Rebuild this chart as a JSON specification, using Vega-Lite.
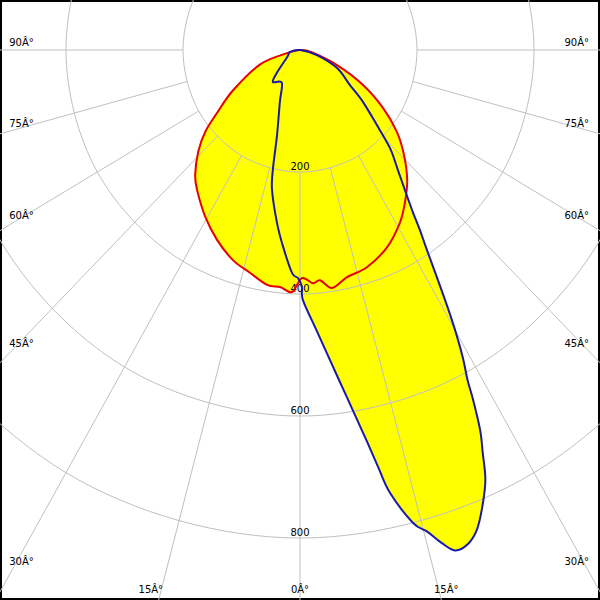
{
  "$schema": "https://vega.github.io/schema/vega-lite/v6.json",
  "width": 600,
  "height": 600,
  "padding": 0,
  "autosize": {"type": "none"},
  "background": "white",
  "config": {"view": {"stroke": "black", "strokeWidth": 4}, "font": "DejaVu Sans"},
  "datasets": {
    "red": [
      {"g": -90, "cd": 0}, {"g": -77, "cd": 23}, {"g": -71, "cd": 72}, {"g": -60, "cd": 132},
      {"g": -54, "cd": 175}, {"g": -50.4, "cd": 210}, {"g": -46.2, "cd": 241}, {"g": -41.2, "cd": 272},
      {"g": -37.5, "cd": 289}, {"g": -30.6, "cd": 318}, {"g": -24.5, "cd": 342}, {"g": -18.4, "cd": 363},
      {"g": -13.2, "cd": 375}, {"g": -8.3, "cd": 389}, {"g": -5, "cd": 390}, {"g": -2, "cd": 397},
      {"g": 0.5, "cd": 374}, {"g": 3.3, "cd": 383}, {"g": 5.2, "cd": 379}, {"g": 8, "cd": 394},
      {"g": 12.2, "cd": 381}, {"g": 17.8, "cd": 374}, {"g": 24.7, "cd": 356}, {"g": 31, "cd": 331},
      {"g": 35.6, "cd": 308}, {"g": 40.7, "cd": 281}, {"g": 46, "cd": 247}, {"g": 51, "cd": 213},
      {"g": 56.2, "cd": 171}, {"g": 62, "cd": 122}, {"g": 68.7, "cd": 68}, {"g": 80, "cd": 20}
    ],
    "blue": [
      {"g": -90, "cd": 0}, {"g": -79, "cd": 17}, {"g": -62, "cd": 25}, {"g": -47, "cd": 53},
      {"g": -41.5, "cd": 70}, {"g": -30, "cd": 62}, {"g": -22, "cd": 92}, {"g": -15.7, "cd": 145},
      {"g": -13.4, "cd": 199}, {"g": -11.8, "cd": 234}, {"g": -7.9, "cd": 286}, {"g": -5.1, "cd": 324},
      {"g": -2.1, "cd": 366}, {"g": -0.5, "cd": 374}, {"g": 0.5, "cd": 389}, {"g": 0.7, "cd": 410},
      {"g": 3.5, "cd": 460}, {"g": 5.06, "cd": 494}, {"g": 7.03, "cd": 545}, {"g": 8.82, "cd": 602},
      {"g": 10.16, "cd": 654}, {"g": 11.07, "cd": 697}, {"g": 11.96, "cd": 742}, {"g": 14, "cd": 799},
      {"g": 15.4, "cd": 819}, {"g": 16.7, "cd": 844}, {"g": 17.9, "cd": 862}, {"g": 19.4, "cd": 860},
      {"g": 21, "cd": 843}, {"g": 22.6, "cd": 811}, {"g": 24.2, "cd": 773}, {"g": 25.3, "cd": 731},
      {"g": 26.3, "cd": 695}, {"g": 27.3, "cd": 645}, {"g": 27.9, "cd": 612}, {"g": 29, "cd": 572},
      {"g": 30.4, "cd": 513}, {"g": 31.8, "cd": 453}, {"g": 33.5, "cd": 393}, {"g": 34.8, "cd": 359},
      {"g": 35.9, "cd": 330}, {"g": 37.7, "cd": 296}, {"g": 40.4, "cd": 258}, {"g": 43.7, "cd": 223},
      {"g": 46.9, "cd": 180}, {"g": 51.7, "cd": 137}, {"g": 56, "cd": 103}, {"g": 65, "cd": 70},
      {"g": 74, "cd": 30}
    ],
    "rings": [
      {"cd": 200, "g": -180}, {"cd": 200, "g": -150}, {"cd": 200, "g": -120}, {"cd": 200, "g": -90}, {"cd": 200, "g": -60}, {"cd": 200, "g": -30},
      {"cd": 200, "g": 0}, {"cd": 200, "g": 30}, {"cd": 200, "g": 60}, {"cd": 200, "g": 90}, {"cd": 200, "g": 120}, {"cd": 200, "g": 150},
      {"cd": 400, "g": -180}, {"cd": 400, "g": -150}, {"cd": 400, "g": -120}, {"cd": 400, "g": -90}, {"cd": 400, "g": -60}, {"cd": 400, "g": -30},
      {"cd": 400, "g": 0}, {"cd": 400, "g": 30}, {"cd": 400, "g": 60}, {"cd": 400, "g": 90}, {"cd": 400, "g": 120}, {"cd": 400, "g": 150},
      {"cd": 600, "g": -180}, {"cd": 600, "g": -150}, {"cd": 600, "g": -120}, {"cd": 600, "g": -90}, {"cd": 600, "g": -60}, {"cd": 600, "g": -30},
      {"cd": 600, "g": 0}, {"cd": 600, "g": 30}, {"cd": 600, "g": 60}, {"cd": 600, "g": 90}, {"cd": 600, "g": 120}, {"cd": 600, "g": 150},
      {"cd": 800, "g": -180}, {"cd": 800, "g": -150}, {"cd": 800, "g": -120}, {"cd": 800, "g": -90}, {"cd": 800, "g": -60}, {"cd": 800, "g": -30},
      {"cd": 800, "g": 0}, {"cd": 800, "g": 30}, {"cd": 800, "g": 60}, {"cd": 800, "g": 90}, {"cd": 800, "g": 120}, {"cd": 800, "g": 150}
    ],
    "spokes": [
      {"g": -90}, {"g": -75}, {"g": -60}, {"g": -45}, {"g": -30}, {"g": -15}, {"g": 0},
      {"g": 15}, {"g": 30}, {"g": 45}, {"g": 60}, {"g": 75}, {"g": 90}
    ],
    "ringLabels": [
      {"t": "200", "x": 0, "y": 200}, {"t": "400", "x": 0, "y": 400},
      {"t": "600", "x": 0, "y": 600}, {"t": "800", "x": 0, "y": 800}
    ],
    "leftLabels": [
      {"t": "90Â°", "x": -497, "y": -6.6}, {"t": "75Â°", "x": -497, "y": 126},
      {"t": "60Â°", "x": -497, "y": 277}, {"t": "45Â°", "x": -497, "y": 487},
      {"t": "30Â°", "x": -497, "y": 844}
    ],
    "rightLabels": [
      {"t": "90Â°", "x": 494, "y": -6.6}, {"t": "75Â°", "x": 494, "y": 126},
      {"t": "60Â°", "x": 494, "y": 277}, {"t": "45Â°", "x": 494, "y": 487},
      {"t": "30Â°", "x": 494, "y": 844}
    ],
    "bottomLabels": [
      {"t": "15Â°", "x": -255, "y": 890}, {"t": "0Â°", "x": 0, "y": 890},
      {"t": "15Â°", "x": 250, "y": 890}
    ]
  },
  "encoding": {
    "x": {"field": "x", "type": "quantitative", "scale": {"domain": [-512.8, 512.8], "nice": false, "zero": false}, "axis": null},
    "y": {"field": "y", "type": "quantitative", "scale": {"domain": [-82, 901.6], "reverse": true, "nice": false, "zero": false}, "axis": null}
  },
  "layer": [
    {
      "data": {"name": "red"},
      "transform": [
        {"calculate": "datum.cd*sin(datum.g*PI/180)", "as": "x"},
        {"calculate": "datum.cd*cos(datum.g*PI/180)", "as": "y"}
      ],
      "mark": {"type": "line", "interpolate": "cardinal-closed", "fill": "#ffff00", "stroke": "#ffff00", "strokeWidth": 1},
      "encoding": {"order": {"field": "g", "type": "quantitative"}}
    },
    {
      "data": {"name": "blue"},
      "transform": [
        {"calculate": "datum.cd*sin(datum.g*PI/180)", "as": "x"},
        {"calculate": "datum.cd*cos(datum.g*PI/180)", "as": "y"}
      ],
      "mark": {"type": "line", "interpolate": "cardinal-closed", "fill": "#ffff00", "stroke": "#ffff00", "strokeWidth": 1},
      "encoding": {"order": {"field": "g", "type": "quantitative"}}
    },
    {
      "data": {"name": "rings"},
      "transform": [
        {"calculate": "datum.cd*sin(datum.g*PI/180)", "as": "x"},
        {"calculate": "datum.cd*cos(datum.g*PI/180)", "as": "y"}
      ],
      "mark": {"type": "line", "interpolate": "cardinal-closed", "stroke": "#c0c0c0", "strokeWidth": 1, "clip": true},
      "encoding": {"detail": {"field": "cd", "type": "nominal"}, "order": {"field": "g", "type": "quantitative"}}
    },
    {
      "data": {"name": "spokes"},
      "transform": [
        {"calculate": "200*sin(datum.g*PI/180)", "as": "x"},
        {"calculate": "200*cos(datum.g*PI/180)", "as": "y"},
        {"calculate": "1400*sin(datum.g*PI/180)", "as": "x2"},
        {"calculate": "1400*cos(datum.g*PI/180)", "as": "y2"}
      ],
      "mark": {"type": "rule", "color": "#c0c0c0", "strokeWidth": 1, "clip": true},
      "encoding": {"x2": {"field": "x2"}, "y2": {"field": "y2"}}
    },
    {
      "data": {"name": "ringLabels"},
      "mark": {"type": "text", "align": "center", "baseline": "alphabetic", "dy": -2, "fontSize": 10, "color": "black"},
      "encoding": {"text": {"field": "t"}}
    },
    {
      "data": {"name": "leftLabels"},
      "mark": {"type": "text", "align": "left", "baseline": "alphabetic", "fontSize": 10, "color": "black"},
      "encoding": {"text": {"field": "t"}}
    },
    {
      "data": {"name": "rightLabels"},
      "mark": {"type": "text", "align": "right", "baseline": "alphabetic", "fontSize": 10, "color": "black"},
      "encoding": {"text": {"field": "t"}}
    },
    {
      "data": {"name": "bottomLabels"},
      "mark": {"type": "text", "align": "center", "baseline": "alphabetic", "fontSize": 10, "color": "black"},
      "encoding": {"text": {"field": "t"}}
    },
    {
      "data": {"name": "red"},
      "transform": [
        {"calculate": "datum.cd*sin(datum.g*PI/180)", "as": "x"},
        {"calculate": "datum.cd*cos(datum.g*PI/180)", "as": "y"}
      ],
      "mark": {"type": "line", "interpolate": "cardinal-closed", "stroke": "#e60000", "strokeWidth": 2},
      "encoding": {"order": {"field": "g", "type": "quantitative"}}
    },
    {
      "data": {"name": "blue"},
      "transform": [
        {"calculate": "datum.cd*sin(datum.g*PI/180)", "as": "x"},
        {"calculate": "datum.cd*cos(datum.g*PI/180)", "as": "y"}
      ],
      "mark": {"type": "line", "interpolate": "cardinal-closed", "stroke": "#1a1aa8", "strokeWidth": 2},
      "encoding": {"order": {"field": "g", "type": "quantitative"}}
    }
  ]
}
